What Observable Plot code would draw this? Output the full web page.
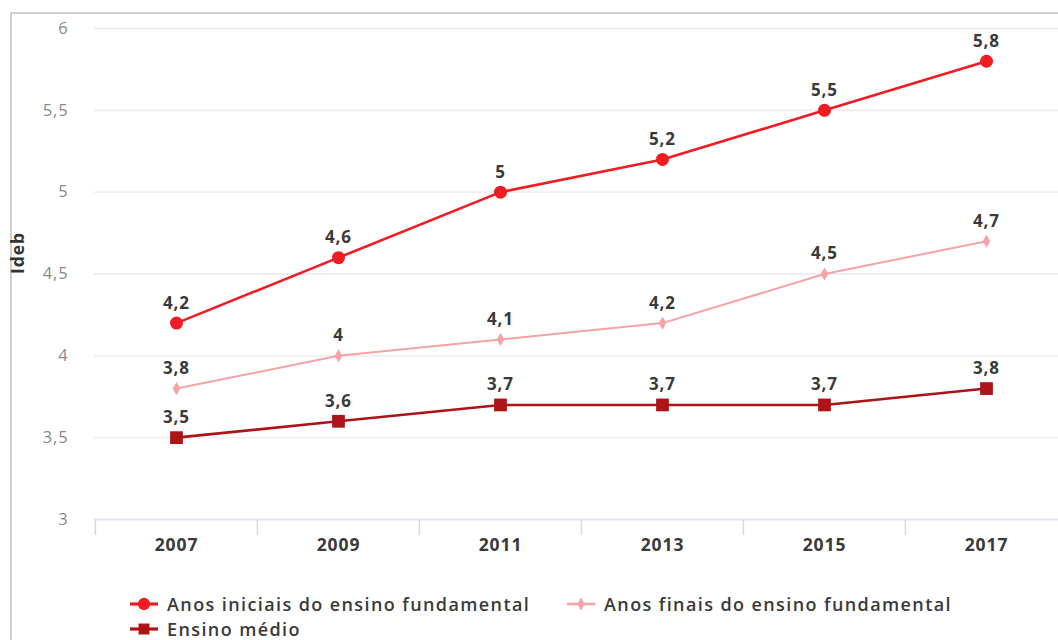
<!DOCTYPE html>
<html>
<head>
<meta charset="utf-8">
<script src="https://cdn.jsdelivr.net/npm/d3@7"></script>
<script src="https://cdn.jsdelivr.net/npm/@observablehq/plot@0.6"></script>
<style>
  html, body { margin: 0; padding: 0; background: #fff; }
  body { width: 1058px; height: 640px; overflow: hidden; position: relative; font-family: "Open Sans", sans-serif; }
  #frame { position: absolute; left: 10px; top: 12px; width: 1060px; height: 640px; border-left: 2px solid #cfcfcf; border-top: 2px solid #cfcfcf; }
  #chart { position: absolute; left: 0; top: 0; }
  #chart svg { overflow: visible; max-width: none; }
  #chart svg text { letter-spacing: 0.9px; }
  .legend { position: absolute; display: flex; align-items: center; height: 20px; line-height: 20px; font-size: 18px; font-weight: 600; letter-spacing: 1.4px; color: #3a3a3a; white-space: nowrap; }
  .legend svg { margin-right: 9px; }
</style>
</head>
<body>
<div id="frame"></div>
<div id="chart"></div>
<div id="legend"></div>
<script>
const years = ["2007", "2009", "2011", "2013", "2015", "2017"];
const seriesNames = ["Anos iniciais do ensino fundamental", "Anos finais do ensino fundamental", "Ensino médio"];
const anosIniciais = [4.2, 4.6, 5.0, 5.2, 5.5, 5.8];
const anosFinais = [3.8, 4.0, 4.1, 4.2, 4.5, 4.7];
const ensinoMedio = [3.5, 3.6, 3.7, 3.7, 3.7, 3.8];
const yTicks = [3, 3.5, 4, 4.5, 5, 5.5, 6];

const colors = ["#ef1c24", "#f5a3a6", "#ad1418"];
const symbols = ["circle", "diamond", "square"];
const radii = [6.5, 4, 7.2];
const widths = [2.6, 2, 2.6];

const allValues = [anosIniciais, anosFinais, ensinoMedio];
const data = [];
allValues.forEach((vals, s) => vals.forEach((v, i) => data.push({series: seriesNames[s], s, year: years[i], value: v})));

const fmt = v => String(v).replace(".", ",");
const step = (1067 - 94) / years.length;

const marks = [
  Plot.ruleY(yTicks.filter(t => t !== 3), {y: d => d, stroke: "#efefef", strokeWidth: 1.8}),
  Plot.ruleY([3], {stroke: "#e2e6f2", strokeWidth: 2}),
  Plot.axisY({ticks: yTicks, tickFormat: fmt, tickSize: 0, tickPadding: 26, fontSize: 16.5, fill: "#8a8a8a", label: null}),
  Plot.axisX({tickSize: 16, dx: -step / 2, tickFormat: () => "", stroke: "#d4d9e6", strokeWidth: 1.5, label: null}),
  Plot.axisX({tickSize: 0, tickPadding: 19, fontSize: 17.5, fontWeight: "bold", fill: "#3a3a3a", label: null}),
  Plot.text(["Ideb"], {frameAnchor: "left", rotate: -90, dx: -76, fontSize: 17.5, fontWeight: "bold", fill: "#333"})
];
seriesNames.forEach((name, s) => {
  const rows = data.filter(d => d.s === s);
  marks.push(Plot.line(rows, {x: "year", y: "value", stroke: colors[s], strokeWidth: widths[s]}));
  marks.push(Plot.dot(rows, {x: "year", y: "value", fill: colors[s], stroke: "none", symbol: symbols[s], r: radii[s]}));
  marks.push(Plot.text(rows, {x: "year", y: "value", text: d => fmt(d.value), dy: -20, fontSize: 17, fontWeight: "bold", fill: "#3a3a3a"}));
});

const chart = Plot.plot({
  width: 1058,
  height: 565,
  marginLeft: 94,
  marginRight: 0,
  marginTop: 28,
  marginBottom: 46,
  style: {fontFamily: "Open Sans, sans-serif", background: "transparent", overflow: "visible"},
  x: {type: "band", domain: years, range: [94, 1067], padding: 0},
  y: {domain: [3, 6], range: [519, 28]},
  marks
});
document.getElementById("chart").appendChild(chart);

// legend
const legendPos = [[130, 594], [567, 594], [130, 619]];
const legendDiv = document.getElementById("legend");
seriesNames.forEach((name, s) => {
  const item = document.createElement("div");
  item.className = "legend";
  item.style.left = legendPos[s][0] + "px";
  item.style.top = legendPos[s][1] + "px";
  const sym = d3.symbol(s === 0 ? d3.symbolCircle : s === 1 ? d3.symbolDiamond : d3.symbolSquare, s === 1 ? 50 : 120)();
  item.innerHTML = `<svg width="28" height="20"><line x1="0" x2="28" y1="10" y2="10" stroke="${colors[s]}" stroke-width="${widths[s] + 0.6}"/><path d="${sym}" transform="translate(14,10)" fill="${colors[s]}"/></svg><span>${name}</span>`;
  legendDiv.appendChild(item);
});
</script>
</body>
</html>
